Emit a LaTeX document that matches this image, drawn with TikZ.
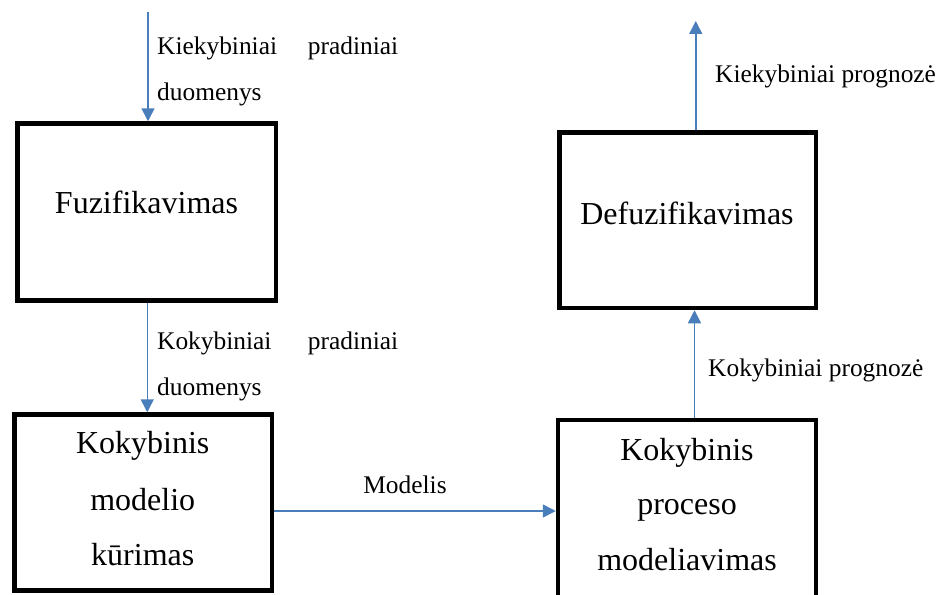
\documentclass[tikz,border=0pt]{standalone}
\usepackage{fontspec}
\setmainfont{Liberation Serif}
\usetikzlibrary{arrows.meta}
\definecolor{arrowblue}{HTML}{4A7EBB}
\begin{document}
\begin{tikzpicture}[x=1pt,y=-1pt,
  box/.style={draw=black,line width=4.5pt,rectangle,inner sep=0pt},
  boxtext/.style={font=\fontsize{32}{55}\selectfont,anchor=base,inner sep=0pt,align=center},
  lbl/.style={font=\fontsize{25.4}{46}\selectfont,anchor=base west,inner sep=0pt,align=left},
  flow/.style={draw=arrowblue,line width=1.5pt,-{Triangle[length=13pt,width=13pt]}}]
\useasboundingbox (0,0) rectangle (949,594);
% boxes
\node[box,minimum width=258.5pt,minimum height=177pt] (fuz) at (146.75,212) {};
\node[box,minimum width=256.5pt,minimum height=175.5pt] (defuz) at (687.75,220.25) {};
\node[box,minimum width=257.5pt,minimum height=176pt] (kurim) at (143.25,502.5) {};
\node[box,minimum width=258pt,minimum height=180pt] (model) at (687,510) {};
% box texts
\node[boxtext] (tfuz) at (146.5,213) {Fuzifikavimas};
\node[boxtext] (tdefuz) at (687,224) {Defuzifikavimas};
\node[boxtext] (tk1) at (142.75,453) {Kokybinis};
\node[boxtext] (tk2) at (142.75,510) {modelio};
\node[boxtext] (tk3) at (142.75,565) {kūrimas};
\node[boxtext] (tm1) at (687,460) {Kokybinis};
\node[boxtext] (tm2) at (687,514) {proceso};
\node[boxtext] (tm3) at (687,570) {modeliavimas};
% connectors
\coordinate (in) at (148,12);
\coordinate (out) at (695.75,21);
\draw[flow] (in) -- (in |- fuz.north);
\draw[flow] ([xshift=0.5pt]fuz.south) -- ([xshift=0.5pt]fuz.south |- kurim.north);
\draw[flow] ([yshift=-8.5pt]kurim.east) -- ([yshift=-8.5pt]kurim.east -| model.west);
\draw[flow] ([xshift=7.5pt]model.north) -- ([xshift=7.5pt]model.north |- defuz.south);
\draw[flow] (out |- defuz.north) -- (out);
% labels
\node[lbl] (l1) at (157,100) {\makebox[241pt][s]{Kiekybiniai pradiniai}\\duomenys};
\node[lbl] (l2) at (157,395) {\makebox[241pt][s]{Kokybiniai pradiniai}\\duomenys};
\node[lbl] (l3) at (715,82) {Kiekybiniai prognozė};
\node[lbl] (l4) at (708,376) {Kokybiniai prognozė};
\node[lbl,anchor=base] (l5) at (405,493) {Modelis};
\end{tikzpicture}
\end{document}
